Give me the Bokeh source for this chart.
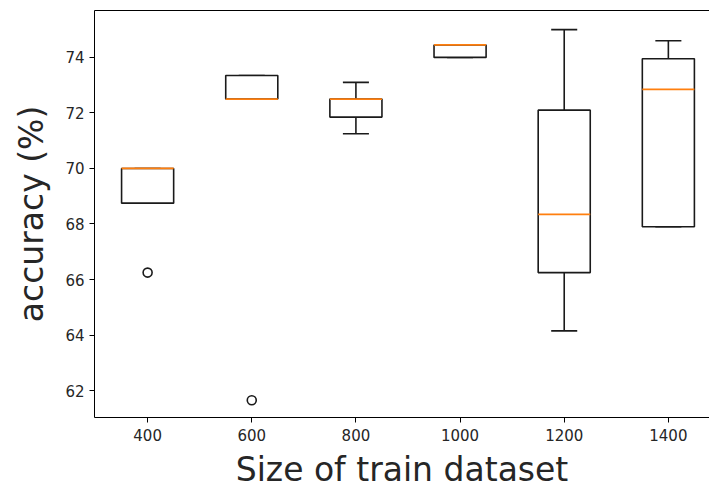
from bokeh.plotting import figure
from bokeh.models import Range1d, FixedTicker, LinearAxis
from bokeh.embed import file_html
from bokeh.resources import INLINE

# ---- data ----
sizes = [400, 600, 800, 1000, 1200, 1400]
q1 = [68.75, 72.5, 71.85, 74.0, 66.25, 67.9]
median = [70.0, 72.5, 72.5, 74.45, 68.35, 72.85]
q3 = [70.0, 73.35, 72.5, 74.45, 72.1, 73.95]
whisker_low = [68.75, 72.5, 71.25, 74.0, 64.15, 67.9]
whisker_high = [70.0, 73.35, 73.1, 74.45, 75.0, 74.6]
outlier_x = [400, 600]
outlier_y = [66.25, 61.65]
x_ticks = [400, 600, 800, 1000, 1200, 1400]
y_ticks = [62, 64, 66, 68, 70, 72, 74]

box_width = 100
cap_width = 50
FONT = "DejaVu Sans"
LINE = "#1a1a1a"

p = figure(width=709, height=487, frame_width=615, frame_height=407,
           output_backend="svg", toolbar_location=None,
           x_range=Range1d(298, 1479), y_range=Range1d(61.03, 75.69),
           min_border_left=94, min_border_right=0, min_border_top=10,
           min_border_bottom=70)
p.outline_line_color = None
p.grid.visible = False
p.background_fill_color = "white"
p.border_fill_color = "white"

# whiskers
p.segment(x0=sizes, y0=q3, x1=sizes, y1=whisker_high, line_color=LINE, line_width=1.6)
p.segment(x0=sizes, y0=q1, x1=sizes, y1=whisker_low, line_color=LINE, line_width=1.6)
# caps
cap_l = [s - cap_width / 2 for s in sizes]
cap_r = [s + cap_width / 2 for s in sizes]
p.segment(x0=cap_l, y0=whisker_high, x1=cap_r, y1=whisker_high, line_color=LINE, line_width=1.6)
p.segment(x0=cap_l, y0=whisker_low, x1=cap_r, y1=whisker_low, line_color=LINE, line_width=1.6)
# boxes
p.vbar(x=sizes, width=box_width, bottom=q1, top=q3, fill_color="white",
       line_color=LINE, line_width=1.6)
# medians
med_l = [s - box_width / 2 for s in sizes]
med_r = [s + box_width / 2 for s in sizes]
p.segment(x0=med_l, y0=median, x1=med_r, y1=median, line_color="#ff7f0e", line_width=1.8)
# outliers
p.scatter(x=outlier_x, y=outlier_y, size=9, marker="circle", fill_color=None,
          line_color=LINE, line_width=1.6)

# axes
for ax in (p.xaxis[0], p.yaxis[0]):
    ax.axis_line_color = "black"
    ax.axis_line_width = 1
    ax.major_tick_line_color = "black"
    ax.major_tick_in = 0
    ax.major_tick_out = 5
    ax.minor_tick_line_color = None
    ax.major_label_text_font = FONT
    ax.major_label_text_font_size = "15px"
    ax.major_label_text_color = "#262626"
    ax.axis_label_text_font = FONT
    ax.axis_label_text_font_size = "33px"
    ax.axis_label_text_font_style = "normal"
    ax.axis_label_text_color = "#262626"

p.xaxis[0].ticker = FixedTicker(ticks=x_ticks)
p.yaxis[0].ticker = FixedTicker(ticks=y_ticks)
p.xaxis[0].axis_label = "Size of train dataset"
p.yaxis[0].axis_label = "accuracy (%)"
p.xaxis[0].major_label_standoff = 6
p.yaxis[0].major_label_standoff = 5
p.xaxis[0].axis_label_standoff = 6
p.yaxis[0].axis_label_standoff = 11

top = LinearAxis(ticker=FixedTicker(ticks=[]), axis_line_color="black",
                 major_tick_out=0, major_tick_in=0, minor_tick_out=0, minor_tick_in=0,
                 major_label_standoff=0, major_label_text_font_size="0px")
p.add_layout(top, "above")

open("out.html", "w").write(file_html(p, INLINE))
